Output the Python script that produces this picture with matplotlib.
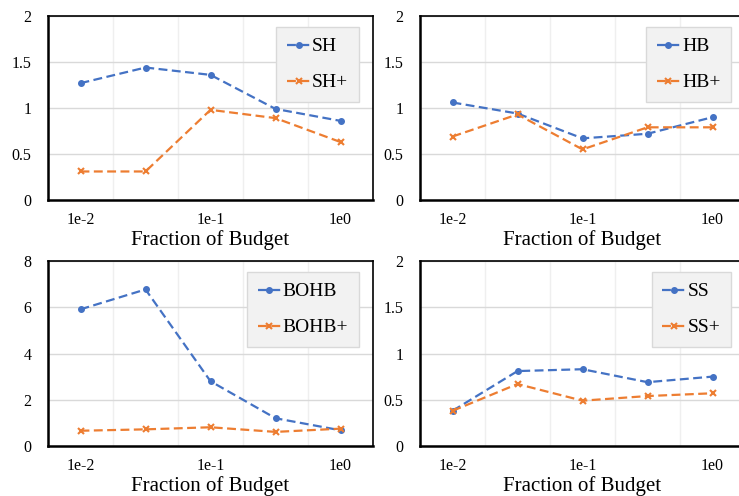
import matplotlib.pyplot as plt
import numpy as np

plt.rcParams['font.family'] = ['Liberation Serif', 'DejaVu Serif']

budget_labels = ['1e-2', '', '1e-1', '', '1e0']

sh = [1.27, 1.44, 1.36, 0.99, 0.86]
sh_plus = [0.31, 0.31, 0.98, 0.89, 0.63]

hb = [1.06, 0.94, 0.67, 0.72, 0.90]
hb_plus = [0.69, 0.93, 0.55, 0.79, 0.79]

bohb = [5.91, 6.77, 2.80, 1.20, 0.68]
bohb_plus = [0.66, 0.72, 0.81, 0.61, 0.75]

ss = [0.38, 0.81, 0.83, 0.69, 0.75]
ss_plus = [0.38, 0.67, 0.49, 0.54, 0.57]

BLUE = '#4472C4'
ORANGE = '#ED7D31'

W, H = 739, 496
fig = plt.figure(figsize=(W / 100, H / 100), dpi=100)


def make_ax(left, top, right, bottom):
    return fig.add_axes([left / W, (H - bottom) / H, (right - left) / W, (bottom - top) / H])


def panel(ax, a, b, name, ymax, ystep):
    x = np.arange(len(a))
    ax.plot(x, a, color=BLUE, lw=1.6, dashes=(4, 2), marker='o', ms=4, label=name)
    ax.plot(x, b, color=ORANGE, lw=1.6, dashes=(4, 2), marker='x', ms=5, mew=1.5,
            label=name + '+')
    ax.set_xlim(-0.48, 4.48)
    ax.set_ylim(0, ymax)
    ax.set_xticks(x)
    ax.set_xticklabels(budget_labels)
    yt = np.arange(0, ymax + ystep / 2, ystep)
    ax.set_yticks(yt)
    ax.set_yticklabels(['%g' % v for v in yt])
    ax.set_xticks(np.arange(-0.5, 4.6, 0.5), minor=True)
    ax.grid(True, which='minor', axis='x', color='#efefef', lw=1)
    ax.grid(True, which='major', axis='y', color='#d9d9d9', lw=1)
    ax.set_axisbelow(True)
    ax.tick_params(axis='both', which='both', length=0, labelsize=11.5)
    ax.tick_params(axis='y', pad=12)
    ax.tick_params(axis='x', pad=9)
    for s in ['top', 'right']:
        ax.spines[s].set_linewidth(1.2)
    for s in ['left', 'bottom']:
        ax.spines[s].set_linewidth(1.8)
    ax.set_xlabel('Fraction of Budget', fontsize=15, labelpad=1)
    leg = ax.legend(loc='upper right', bbox_to_anchor=(0.957, 0.94), borderaxespad=0,
                    fontsize=14, handlelength=1.2, handletextpad=0.1,
                    labelspacing=0.95, borderpad=0.55, fancybox=False,
                    framealpha=1, facecolor='#f2f2f2', edgecolor='#d9d9d9')
    leg.get_frame().set_linewidth(1)


ax1 = make_ax(48, 16, 373, 200)
ax2 = make_ax(420, 16, 745, 200)
ax3 = make_ax(48, 261, 373, 446)
ax4 = make_ax(420, 261, 745, 446)

panel(ax1, sh, sh_plus, 'SH', 2, 0.5)
panel(ax2, hb, hb_plus, 'HB', 2, 0.5)
panel(ax3, bohb, bohb_plus, 'BOHB', 8, 2)
panel(ax4, ss, ss_plus, 'SS', 2, 0.5)

fig.savefig('out.png', dpi=100)
